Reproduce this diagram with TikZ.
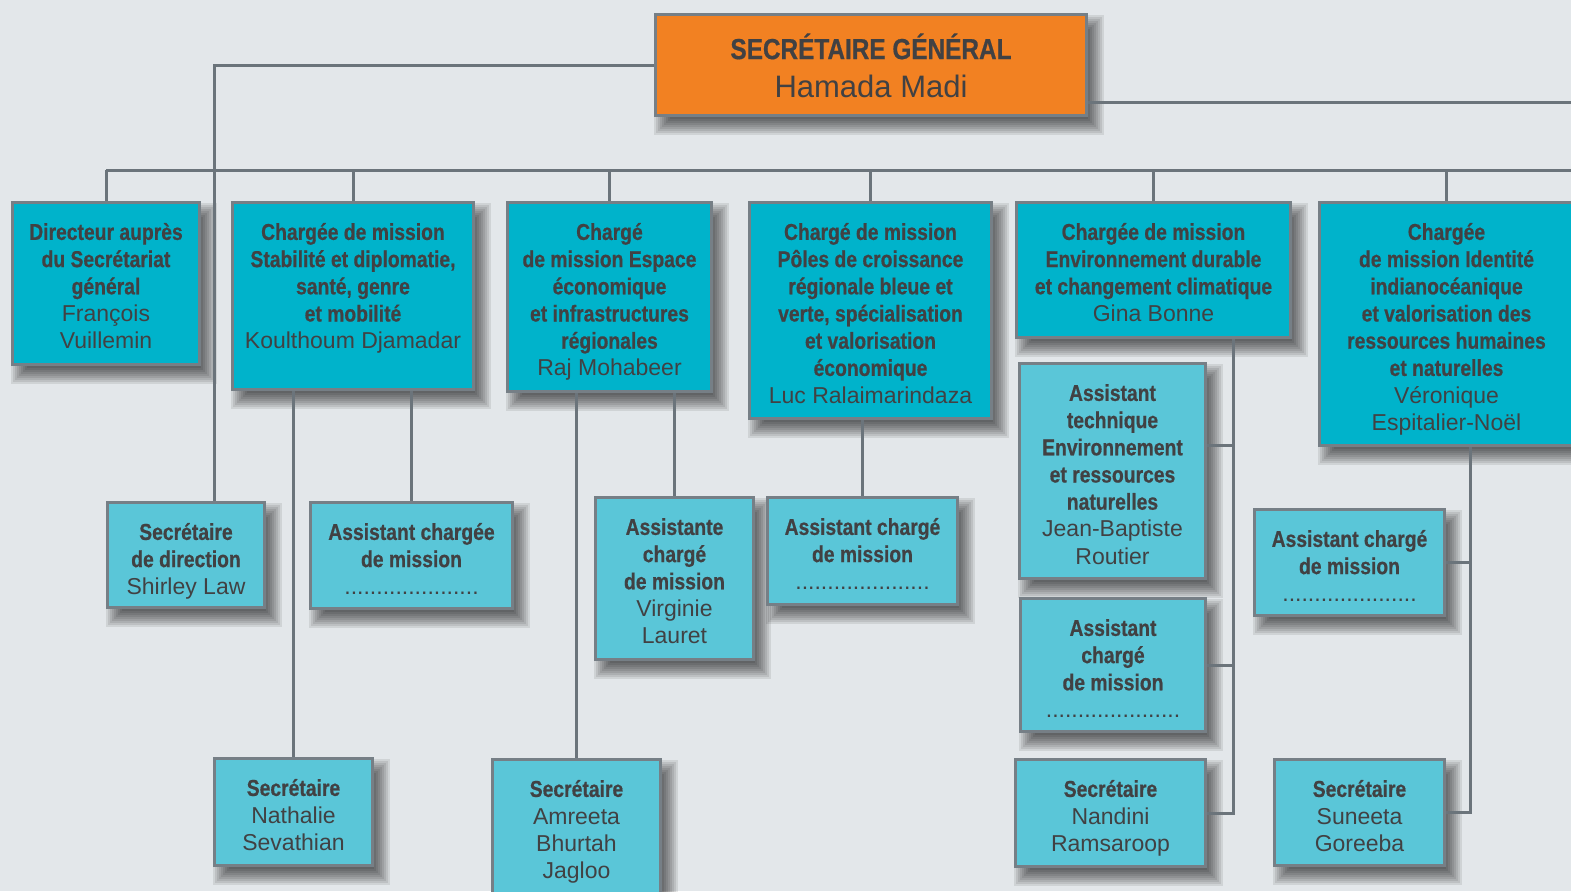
\documentclass[tikz,border=0pt]{standalone}
\usepackage{fontspec}
\setmainfont{Liberation Sans}
\newfontfamily\bcondf{Liberation Sans Bold}[FakeStretch=0.84,FakeBold=0.6]
\usetikzlibrary{calc}
\definecolor{bgc}{HTML}{E3E7EA}
\definecolor{cyanA}{HTML}{00B3CB}
\definecolor{cyanB}{HTML}{5AC6D8}
\definecolor{bordc}{HTML}{767F86}
\definecolor{linec}{HTML}{6B747B}
\definecolor{txt}{HTML}{414143}
\definecolor{orng}{HTML}{F28122}
\newcommand\Bf{\bcondf}
\newcommand\Lf{\normalfont}
\newcommand\dotline{.....................}
\newcommand\shd[4]{%
  \begin{pgfonlayer}{shad}
  \foreach \k in {0,...,8}{\fill[black,opacity=0.085] (#1+16-2*\k,#2+18-2*\k) rectangle (#3+2*\k,#4+2+2*\k);}
  \end{pgfonlayer}}
% style, name, x1, y1, x2, y2, text
\newcommand\ob[7]{%
  \node[#1, minimum width={(#5-#3)*0.5pt-1.5pt}, minimum height={(#6-#4)*0.5pt-1.5pt}]
    (#2) at ({(#3+#5)/2},{(#4+#6)/2}) {};
  \node[txtnode] (#2t) at ({(#3+#5)/2},{#4+18.5}) {\rule{0pt}{10pt}#7};
  \shd{#3}{#4}{#5}{#6}}
\pgfdeclarelayer{back}
\pgfdeclarelayer{shad}
\pgfdeclarelayer{lines}
\pgfsetlayers{back,shad,lines,main}
\tikzset{
  box/.style={draw=bordc, line width=1.5pt, inner sep=0pt},
  txtnode/.style={anchor=north, align=center, inner sep=0pt, text=txt,
    font=\fontsize{11.5}{13.6}\selectfont},
  topbox/.style={box, fill=cyanA},
  subbox/.style={box, fill=cyanB},
  sgbox/.style={box, fill=orng},
  link/.style={draw=linec, line width=1.5pt}
}
\begin{document}
\begin{tikzpicture}[x=0.5pt,y=-0.5pt]
\begin{pgfonlayer}{back}
\fill[bgc] (0,0) rectangle (1571,891);
\end{pgfonlayer}
\useasboundingbox (0,0) rectangle (1571,891);

\node[sgbox, minimum width={434*0.5pt-1.5pt}, minimum height={104*0.5pt-1.5pt}] (sg) at (871,65) {};
\node[txtnode, font=\fontsize{14.5}{19}\selectfont] (sgt) at (871,33) {\rule{0pt}{12pt}\Bf SECRÉTAIRE GÉNÉRAL\\ \Lf\fontsize{15.5}{19.5}\selectfont Hamada Madi};
\shd{654}{13}{1088}{117}

\ob{topbox}{b1}{11}{201}{201}{366}{\Bf Directeur auprès\\ \Bf du Secrétariat\\ \Bf général\\ \Lf François\\ \Lf Vuillemin}
\ob{topbox}{b2}{231}{201}{475}{391}{\Bf Chargée de mission\\ \Bf Stabilité et diplomatie,\\ \Bf santé, genre\\ \Bf et mobilité\\ \Lf Koulthoum Djamadar}
\ob{topbox}{b3}{506}{201}{713}{393}{\Bf Chargé\\ \Bf de mission Espace\\ \Bf économique\\ \Bf et infrastructures\\ \Bf régionales\\ \Lf Raj Mohabeer}
\ob{topbox}{b4}{748}{201}{993}{420}{\Bf Chargé de mission\\ \Bf Pôles de croissance\\ \Bf régionale bleue et\\ \Bf verte, spécialisation\\ \Bf et valorisation\\ \Bf économique\\ \Lf Luc Ralaimarindaza}
\ob{topbox}{b5}{1015}{201}{1292}{339}{\Bf Chargée de mission\\ \Bf Environnement durable\\ \Bf et changement climatique\\ \Lf Gina Bonne}
\ob{topbox}{b6}{1318}{201}{1575}{447}{\Bf Chargée\\ \Bf de mission Identité\\ \Bf indianocéanique\\ \Bf et valorisation des\\ \Bf ressources humaines\\ \Bf et naturelles\\ \Lf Véronique\\ \Lf Espitalier-Noël}

\ob{subbox}{sd}{106}{501}{266}{609}{\Bf Secrétaire\\ \Bf de direction\\ \Lf Shirley Law}
\ob{subbox}{a2}{309}{501}{514}{610}{\Bf Assistant chargée\\ \Bf de mission\\ \Lf\dotline}
\ob{subbox}{s2}{213}{757}{374}{867}{\Bf Secrétaire\\ \Lf Nathalie\\ \Lf Sevathian}
\ob{subbox}{a3}{594}{496}{755}{661}{\Bf Assistante\\ \Bf chargé\\ \Bf de mission\\ \Lf Virginie\\ \Lf Lauret}
\ob{subbox}{s3}{491}{758}{662}{896}{\Bf Secrétaire\\ \Lf Amreeta\\ \Lf Bhurtah\\ \Lf Jagloo}
\ob{subbox}{a4}{766}{496}{959}{606}{\Bf Assistant chargé\\ \Bf de mission\\ \Lf\dotline}
\ob{subbox}{t5}{1018}{362}{1207}{580}{\Bf Assistant\\ \Bf technique\\ \Bf Environnement\\ \Bf et ressources\\ \Bf naturelles\\ \Lf Jean-Baptiste\\ \Lf Routier}
\ob{subbox}{a5}{1019}{597}{1207}{733}{\Bf Assistant\\ \Bf chargé\\ \Bf de mission\\ \Lf\dotline}
\ob{subbox}{s5}{1014}{758}{1207}{868}{\Bf Secrétaire\\ \Lf Nandini\\ \Lf Ramsaroop}
\ob{subbox}{a6}{1253}{508}{1446}{617}{\Bf Assistant chargé\\ \Bf de mission\\ \Lf\dotline}
\ob{subbox}{s6}{1273}{758}{1446}{867}{\Bf Secrétaire\\ \Lf Suneeta\\ \Lf Goreeba}

\begin{pgfonlayer}{lines}
\coordinate (busL) at (106,170);
\coordinate (busR) at (1575,170);
\coordinate (rEnd) at (1575,102);
\draw[link] (busL) -- (busR);
\foreach \n in {b1,b2,b3,b4,b5,b6} {\draw[link] (\n.north) -- (\n.north |- busL);}
\draw[link] (sg.west) -| ($(sd.north)+(28,0)$);
\draw[link] (rEnd -| sg.east) -- (rEnd);
\foreach \n in {a2,s2} {\draw[link] (\n.north) -- (\n.north |- b2.south);}
\foreach \n in {a3,s3} {\draw[link] (\n.north) -- (\n.north |- b3.south);}
\draw[link] (a4.north) -- (a4.north |- b4.south);
\path (s5.east) ++(26,0) coordinate (tr5);
\coordinate (t5b) at ($(t5.east)+(0,-26)$);
\draw[link] (tr5 |- b5.south) -- (tr5) -- (s5.east);
\draw[link] (a5.east) -- (a5.east -| tr5);
\draw[link] (t5b) -- (t5b -| tr5);
\path (s6.east) ++(24,0) coordinate (tr6);
\draw[link] (tr6 |- b6.south) -- (tr6) -- (s6.east);
\draw[link] (a6.east) -- (a6.east -| tr6);
\end{pgfonlayer}
\end{tikzpicture}
\end{document}
